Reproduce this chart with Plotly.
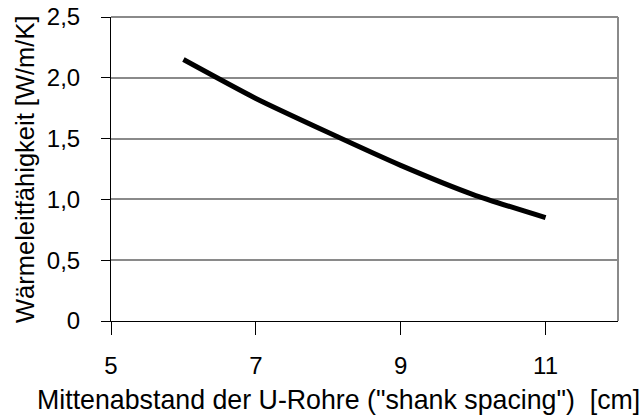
import plotly.graph_objects as go

# Data
spacing_cm = [6, 7, 8, 9, 10, 11]
conductivity = [2.15, 1.83, 1.55, 1.28, 1.04, 0.85]

x_tickvals = [5, 7, 9, 11]
x_ticktext = ["5", "7", "9", "11"]
y_tickvals = [0, 0.5, 1.0, 1.5, 2.0, 2.5]
y_ticktext = ["0", "0,5", "1,0", "1,5", "2,0", "2,5"]

x_title = 'Mittenabstand der U-Rohre ("shank spacing")  [cm]'
y_title = "Wärmeleitfähigkeit [W/m/K]"

FONT = "Liberation Sans, Arial, sans-serif"

fig = go.Figure()
fig.add_trace(go.Scatter(
    x=spacing_cm, y=conductivity, mode="lines",
    line=dict(color="black", width=5, shape="spline", smoothing=0.6),
    showlegend=False, hoverinfo="skip",
))

fig.update_layout(
    width=641, height=416,
    margin=dict(l=111, r=23, t=17, b=95, autoexpand=False),
    paper_bgcolor="white", plot_bgcolor="white",
    font=dict(family=FONT, color="black", size=24),
    showlegend=False,
    xaxis=dict(
        range=[5, 12], tickvals=x_tickvals, ticktext=x_ticktext,
        showgrid=False, zeroline=False, automargin=False,
        showline=True, linecolor="black", linewidth=1,
        ticks="outside", ticklen=13, tickcolor="black", tickwidth=1,
        ticklabelposition="outside", ticklabelstandoff=10,
        tickfont=dict(family=FONT, size=24, color="black"),
    ),
    yaxis=dict(
        range=[0, 2.5], tickvals=y_tickvals, ticktext=y_ticktext,
        showgrid=True, gridcolor="#8a8a8a", gridwidth=1.5,
        zeroline=False, automargin=False,
        showline=True, linecolor="black", linewidth=1,
        ticks="outside", ticklen=9, tickcolor="black", tickwidth=1,
        ticklabelposition="outside", ticklabelstandoff=16,
        tickfont=dict(family=FONT, size=24, color="black"),
    ),
    shapes=[
        # darker lower gridlines
        dict(type="line", xref="paper", x0=0, x1=1, yref="y", y0=v, y1=v,
             line=dict(color="black", width=1), layer="below")
        for v in [0.5, 1.0]
    ] + [
        # top and right frame of plot area
        dict(type="line", xref="paper", x0=0, x1=1, yref="paper", y0=1, y1=1,
             line=dict(color="#8a8a8a", width=2)),
        dict(type="line", xref="paper", x0=1, x1=1, yref="paper", y0=0, y1=1,
             line=dict(color="#8a8a8a", width=2)),
    ],
    annotations=[
        dict(text=x_title, xref="paper", yref="paper", x=0.449, y=0,
             xanchor="center", yanchor="middle", yshift=-79, showarrow=False,
             font=dict(family=FONT, size=26.75, color="black")),
        dict(text=y_title, xref="paper", yref="paper", x=0, y=0.5,
             xanchor="center", yanchor="middle", xshift=-86, yshift=-1,
             textangle=-90, showarrow=False,
             font=dict(family=FONT, size=25.5, color="black")),
    ],
)

fig.write_html("out.html", config={"displayModeBar": False},
               post_script="document.body.style.margin='0';")
